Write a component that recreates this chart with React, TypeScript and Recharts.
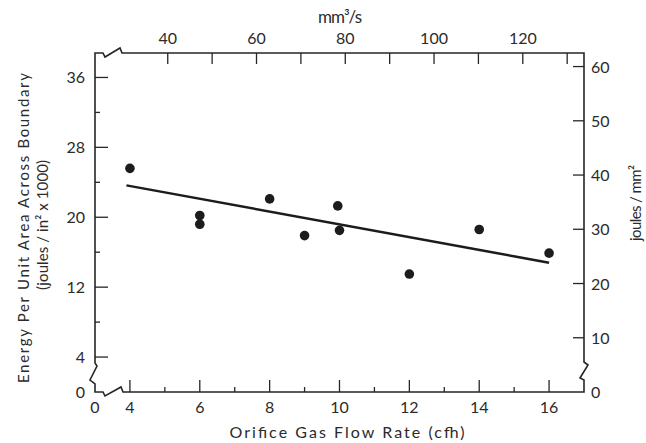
import React from 'react';
import { ScatterChart, Scatter, XAxis, YAxis, Customized } from 'recharts';

// measured points: flow rate (cfh) vs energy (joules/in² x 1000)
const flowRate = [4, 6, 6, 8, 9, 9.95, 10, 12, 14, 16];
const energy = [25.6, 20.2, 19.2, 22.1, 17.9, 21.3, 18.5, 13.5, 18.6, 15.9];

// fitted line end points
const fitFlow = [3.9, 16];
const fitEnergy = [23.65, 14.8];

const bottomTicks = [3, 4, 5, 6, 7, 8, 9, 10, 11, 12, 13, 14, 15, 16];
const topTicks = [40, 50, 60, 70, 80, 90, 100, 110, 120, 130];
const leftTicks = [0, 4, 8, 12, 16, 20, 24, 28, 32, 36];
const rightTicks = [0, 10, 20, 30, 40, 50, 60];

const CFH_TO_FLOW = 7.87;

const points = flowRate.map((x, i) => ({ x, y: energy[i] }));
const fitLine = fitFlow.map((x, i) => ({ x, y: fitEnergy[i] }));
// invisible series so the secondary (top/right) axes get drawn
const secondary = [{ fx: topTicks[0], jy: rightTicks[1] }];

const INK = '#262626';
const TEXT = '#2b2b2b';
const FONT = "Lato, 'DejaVu Sans', sans-serif";

const BottomTick = (props: any) => {
  const { x, y, payload } = props;
  const v = payload.value;
  const major = v % 2 === 0;
  return (
    <g>
      {v !== 3 && <line x1={x} x2={x} y1={y} y2={y - (major ? 12 : 5)} stroke={INK} strokeWidth={1.3} />}
      {(major || v === 3) && (
        <text x={x} y={y + 21} textAnchor="middle" fontSize={16} fill={TEXT} fontFamily={FONT}>
          {v === 3 ? '0' : v}
        </text>
      )}
    </g>
  );
};

const TopTick = (props: any) => {
  const { x, y, payload } = props;
  const v = payload.value;
  return (
    <g>
      <line x1={x} x2={x} y1={y} y2={y + 11} stroke={INK} strokeWidth={1.3} />
      {v % 20 === 0 && (
        <text x={x} y={y - 9} textAnchor="middle" fontSize={16} fill={TEXT} fontFamily={FONT}>
          {v}
        </text>
      )}
    </g>
  );
};

const LeftTick = (props: any) => {
  const { x, y, payload } = props;
  const v = payload.value;
  const major = v % 8 === 4 || v === 0;
  return (
    <g>
      {v !== 0 && <line x1={x} x2={x + (major ? 13 : 5)} y1={y} y2={y} stroke={INK} strokeWidth={1.3} />}
      {major && (
        <text x={x - 10} y={y + 6} textAnchor="end" fontSize={16} fill={TEXT} fontFamily={FONT}>
          {v}
        </text>
      )}
    </g>
  );
};

const RightTick = (props: any) => {
  const { x, y, payload } = props;
  const v = payload.value;
  return (
    <g>
      {v !== 0 && <line x1={x} x2={x - 11} y1={y} y2={y} stroke={INK} strokeWidth={1.3} />}
      <text x={x + 7} y={y + 6} textAnchor="start" fontSize={16} fill={TEXT} fontFamily={FONT}>
        {v}
      </text>
    </g>
  );
};

// frame with axis breaks and titles
const Frame = () => (
  <g>
    <path
      d="M95,53 L95,363 L97,366 L90,380 L95,384 L95,392 L103,392 L105,396 L121,387 L123,392 L584,392 L584,380 L580,378 L588,365 L584,362 L584,53 L122,53 L120,48 L105,57 L103,53 Z"
      fill="none"
      stroke={INK}
      strokeWidth={1.6}
      strokeLinejoin="miter"
    />
    <g fontFamily={FONT} fill={TEXT}>
      <text x={340} y={23} textAnchor="middle" fontSize={17} textLength={44} lengthAdjust="spacing">mm³/s</text>
      <text x={347} y={438} textAnchor="middle" fontSize={16} textLength={235} lengthAdjust="spacing">
        Orifice Gas Flow Rate (cfh)
      </text>
      <text transform="translate(29,228) rotate(-90)" textAnchor="middle" fontSize={15} textLength={310} lengthAdjust="spacing">
        Energy Per Unit Area Across Boundary
      </text>
      <text transform="translate(48,225) rotate(-90)" textAnchor="middle" fontSize={15} textLength={130} lengthAdjust="spacing">
        (joules / in² x 1000)
      </text>
      <text transform="translate(641,203) rotate(-90)" textAnchor="middle" fontSize={15} textLength={76} lengthAdjust="spacing">
        joules / mm²
      </text>
    </g>
  </g>
);

export default function App() {
  return (
    <div style={{ position: 'absolute', left: 0, top: 0, width: 646, height: 443, background: '#fff' }}>
      <ScatterChart width={646} height={443} margin={{ top: 0, right: 0, bottom: 0, left: 0 }}>
        <XAxis
          xAxisId="cfh"
          dataKey="x"
          type="number"
          orientation="bottom"
          height={51}
          domain={[3, 17]}
          ticks={bottomTicks}
          interval={0}
          tickSize={0}
          tickMargin={0}
          axisLine={false}
          tickLine={false}
          tick={BottomTick}
        />
        <XAxis
          xAxisId="flow"
          dataKey="fx"
          type="number"
          orientation="top"
          height={53}
          domain={[3 * CFH_TO_FLOW, 17 * CFH_TO_FLOW]}
          ticks={topTicks}
          interval={0}
          tickSize={0}
          tickMargin={0}
          axisLine={false}
          tickLine={false}
          tick={TopTick}
          allowDataOverflow
        />
        <YAxis
          yAxisId="kj"
          dataKey="y"
          type="number"
          orientation="left"
          width={95}
          domain={[0, 38.8]}
          ticks={leftTicks}
          interval={0}
          tickSize={0}
          tickMargin={0}
          axisLine={false}
          tickLine={false}
          tick={LeftTick}
        />
        <YAxis
          yAxisId="jmm"
          dataKey="jy"
          type="number"
          orientation="right"
          width={62}
          domain={[0, 62.5]}
          ticks={rightTicks}
          interval={0}
          tickSize={0}
          tickMargin={0}
          axisLine={false}
          tickLine={false}
          tick={RightTick}
          allowDataOverflow
        />
        <Scatter
          xAxisId="flow"
          yAxisId="jmm"
          data={secondary}
          shape={() => <g />}
          isAnimationActive={false}
        />
        <Scatter
          xAxisId="cfh"
          yAxisId="kj"
          data={fitLine}
          line={{ stroke: '#1c1c1c', strokeWidth: 2.5 }}
          shape={() => <g />}
          isAnimationActive={false}
        />
        <Scatter
          xAxisId="cfh"
          yAxisId="kj"
          data={points}
          fill="#1c1c1c"
          shape={(p: any) => <circle cx={p.cx} cy={p.cy} r={4.8} fill="#1c1c1c" />}
          isAnimationActive={false}
        />
        <Customized component={<Frame />} />
      </ScatterChart>
    </div>
  );
}
